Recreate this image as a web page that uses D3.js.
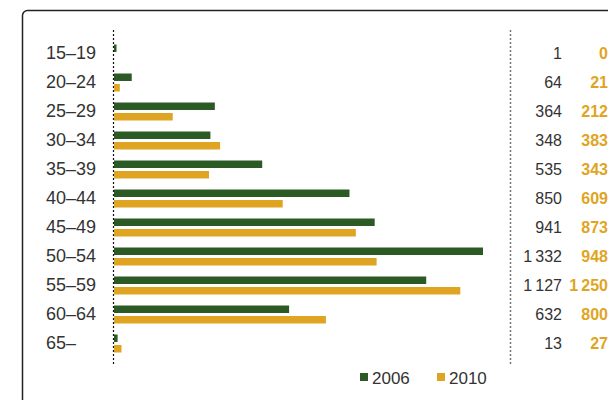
<!DOCTYPE html>
<html>
<head>
<meta charset="utf-8">
<script src="https://cdn.jsdelivr.net/npm/d3@7"></script>
<style>
  body { margin: 0; background: #fff; }
  svg text { font-family: "Liberation Sans", Arial, sans-serif; }
</style>
</head>
<body>
<div id="chart"></div>
<script>
// age groups and values per year
const ages = ["15–19", "20–24", "25–29", "30–34", "35–39", "40–44", "45–49", "50–54", "55–59", "60–64", "65–"];
const values2006 = [1, 64, 364, 348, 535, 850, 941, 1332, 1127, 632, 13];
// bar lengths as drawn (the 60–64 bar is drawn shorter than its label)
const values2010 = [0, 21, 212, 383, 343, 609, 873, 948, 1250, 765, 27];
const labels2006 = ["1", "64", "364", "348", "535", "850", "941", "1\u2009332", "1\u2009127", "632", "13"];
const labels2010 = ["0", "21", "212", "383", "343", "609", "873", "948", "1\u2009250", "800", "27"];
const years = ["2006", "2010"];

const width = 608, height = 400;
const green = "#2c5a25", orange = "#dfa522";

const svg = d3.select("#chart").append("svg")
    .attr("width", width)
    .attr("height", height);

// frame (runs off the right and bottom edges)
svg.append("rect")
    .attr("x", 22.5).attr("y", 10.5)
    .attr("width", 640).attr("height", 420)
    .attr("rx", 5)
    .attr("fill", "none")
    .attr("stroke", "#222")
    .attr("stroke-width", 1.5);

const x = d3.scaleLinear().domain([0, 1332]).range([114, 483]);
const y = d3.scaleBand().domain(ages).range([40, 40 + 29 * ages.length]);

// tiny values still get a visible sliver
const barW = v => v > 0 ? Math.max(2.5, x(v) - x(0)) : 0;

// dotted guides
svg.append("line")
    .attr("x1", 113.5).attr("x2", 113.5).attr("y1", 30).attr("y2", 364)
    .attr("stroke", "#111").attr("stroke-width", 1.2).attr("stroke-dasharray", "2,2");
svg.append("line")
    .attr("x1", 510.5).attr("x2", 510.5).attr("y1", 30).attr("y2", 364)
    .attr("stroke", "#777").attr("stroke-width", 1.5).attr("stroke-dasharray", "2,2");

// bars
svg.selectAll("rect.b06")
    .data(ages)
    .enter().append("rect")
    .attr("class", "b06")
    .attr("x", x(0))
    .attr("y", d => y(d) + 4.5)
    .attr("width", (d, i) => barW(values2006[i]))
    .attr("height", 7.5)
    .attr("fill", green);

svg.selectAll("rect.b10")
    .data(ages)
    .enter().append("rect")
    .attr("class", "b10")
    .attr("x", x(0))
    .attr("y", d => y(d) + 15)
    .attr("width", (d, i) => barW(values2010[i]))
    .attr("height", 7.5)
    .attr("fill", orange);

// age labels
svg.selectAll("text.age")
    .data(ages)
    .enter().append("text")
    .attr("class", "age")
    .attr("x", 46)
    .attr("y", d => y(d) + 18.5)
    .attr("font-size", 18)
    .attr("fill", "#333")
    .text(d => d);

// value columns
svg.selectAll("text.v06")
    .data(ages)
    .enter().append("text")
    .attr("class", "v06")
    .attr("x", 562)
    .attr("y", d => y(d) + 18.5)
    .attr("text-anchor", "end")
    .attr("font-size", 16)
    .attr("fill", "#333")
    .text((d, i) => labels2006[i]);

svg.selectAll("text.v10")
    .data(ages)
    .enter().append("text")
    .attr("class", "v10")
    .attr("x", 608)
    .attr("y", d => y(d) + 18.5)
    .attr("text-anchor", "end")
    .attr("font-size", 16)
    .attr("font-weight", "bold")
    .attr("fill", orange)
    .text((d, i) => labels2010[i]);

// legend
const legend = svg.selectAll("g.legend")
    .data(years)
    .enter().append("g")
    .attr("class", "legend")
    .attr("transform", (d, i) => `translate(${360 + i * 77},373)`);

legend.append("rect")
    .attr("width", 8).attr("height", 8)
    .attr("fill", (d, i) => i === 0 ? green : orange);

legend.append("text")
    .attr("x", 12).attr("y", 11)
    .attr("font-size", 17)
    .attr("fill", "#333")
    .text(d => d);
</script>
</body>
</html>
